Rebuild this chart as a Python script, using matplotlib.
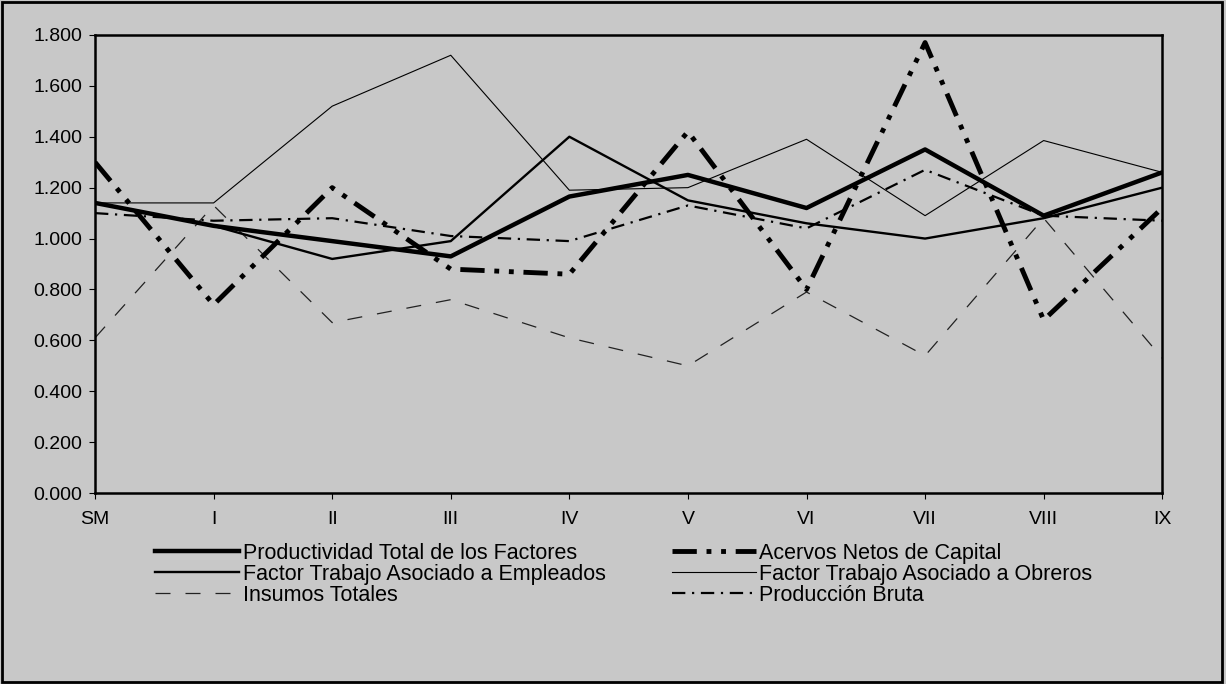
import numpy as np
import matplotlib
matplotlib.use("Agg")
import matplotlib.pyplot as plt
from matplotlib.patches import Rectangle

plt.rcParams['font.family'] = ['Liberation Sans', 'DejaVu Sans']

# categorias del eje x
regiones = ["SM", "I", "II", "III", "IV", "V", "VI", "VII", "VIII", "IX"]

# series (indices)
ptf = [1.14, 1.05, 0.99, 0.93, 1.165, 1.25, 1.12, 1.35, 1.09, 1.26]
acervos = [1.30, 0.74, 1.20, 0.88, 0.86, 1.42, 0.80, 1.77, 0.68, 1.12]
empleados = [1.14, 1.05, 0.92, 0.99, 1.40, 1.15, 1.06, 1.00, 1.08, 1.20]
obreros = [1.14, 1.14, 1.52, 1.72, 1.19, 1.20, 1.39, 1.09, 1.385, 1.26]
insumos = [0.61, 1.13, 0.67, 0.76, 0.61, 0.50, 0.79, 0.54, 1.08, 0.53]
produccion = [1.10, 1.07, 1.08, 1.01, 0.99, 1.13, 1.04, 1.27, 1.09, 1.07]

fondo = "#c8c8c8"

fig = plt.figure(figsize=(12.26, 6.84), dpi=100, facecolor=fondo)
ax = fig.add_axes([0.0775, 0.279, 0.8705, 0.670])
ax.set_facecolor(fondo)

x = np.arange(len(regiones))

l_ins, = ax.plot(x, insumos, color="#222222", lw=0.9, ls=(0, (12, 12)),
                 label="Insumos Totales")
l_obr, = ax.plot(x, obreros, color="black", lw=0.8,
                 label="Factor Trabajo Asociado a Obreros")
l_emp, = ax.plot(x, empleados, color="black", lw=1.7,
                 label="Factor Trabajo Asociado a Empleados")
l_pro, = ax.plot(x, produccion, color="black", lw=1.6, ls=(0, (6, 3, 1, 3)),
                 label="Producción Bruta")
l_ace, = ax.plot(x, acervos, color="black", lw=3.5, ls=(0, (5, 2, 1, 2, 1, 2)),
                 label="Acervos Netos de Capital")
l_ptf, = ax.plot(x, ptf, color="black", lw=3.2,
                 label="Productividad Total de los Factores")

ax.set_xlim(0, len(regiones) - 1)
ax.set_ylim(0, 1.8)
ax.set_yticks(np.arange(0, 1.81, 0.2))
ax.set_yticklabels(["{:.3f}".format(v) for v in np.arange(0, 1.81, 0.2)])
ax.set_xticks(x)
ax.set_xticklabels(regiones)
ax.tick_params(axis="y", direction="out", length=4, width=0.8, pad=5, labelsize=14)
ax.tick_params(axis="x", direction="out", length=4, width=0.8, pad=9, labelsize=14)
for s in ax.spines.values():
    s.set_linewidth(1.8)

handles = [l_ptf, l_emp, l_ins, l_ace, l_obr, l_pro]
fig.legend(handles=handles, labels=[h.get_label() for h in handles],
           ncol=2, loc="upper left", bbox_to_anchor=(0.118, 0.222),
           frameon=False, fontsize=15.5, handlelength=3.9, handletextpad=0.15,
           labelspacing=0.0, columnspacing=3.1, borderpad=0)

# marco exterior
fig.patches.append(Rectangle((0.002, 0.003), 0.995, 0.994, transform=fig.transFigure,
                             fill=False, edgecolor="black", lw=2))

fig.savefig("out.png", dpi=100, facecolor=fondo)
